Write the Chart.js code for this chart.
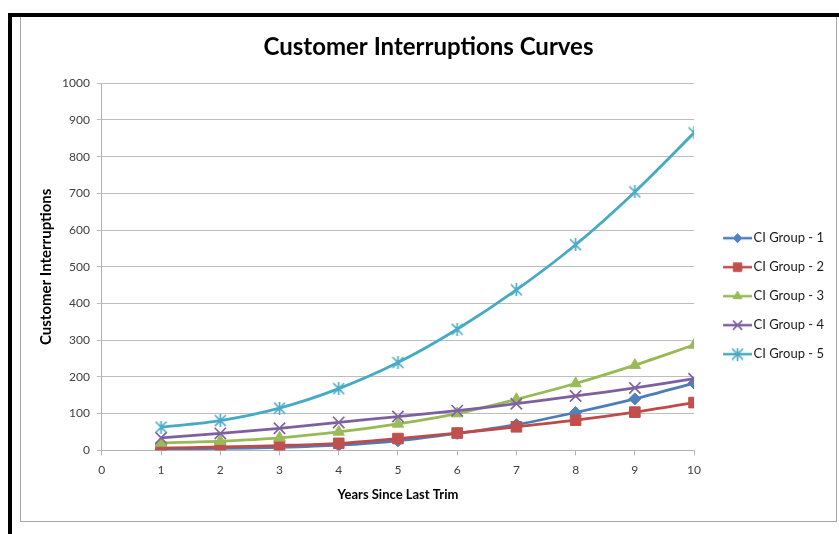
<!DOCTYPE html>
<html>
<head>
<meta charset="utf-8">
<title>Customer Interruptions Curves</title>
<script src="https://cdn.jsdelivr.net/npm/chart.js@4.4.1/dist/chart.umd.min.js"></script>
<style>
  html, body { margin: 0; padding: 0; background: #fff; }
  #wrap { position: relative; width: 839px; height: 534px; overflow: hidden; }
  #panel { position: absolute; left: 20px; top: 17px; width: 815px; height: 504px;
           border: 1px solid #a6a6a6; border-top: none; }
  .rule { position: absolute; background: #000; }
  #c { position: absolute; left: 0; top: 0; }
</style>
</head>
<body>
<div id="wrap">
  <div id="panel"></div>
  <canvas id="c" width="839" height="534"></canvas>
  <div class="rule" style="left:8px;top:13px;width:831px;height:4px"></div>
  <div class="rule" style="left:8px;top:13px;width:4px;height:521px"></div>
</div>
<script>
// Years since the last trim (x values)
const years = [1, 2, 3, 4, 5, 6, 7, 8, 9, 10];

// Customer interruptions per group
const group1 = [3, 5, 8, 14, 26, 46, 70, 103, 140, 183];
const group2 = [6, 9, 13, 19, 32, 47, 64, 82, 104, 130];
const group3 = [20, 25, 34, 50, 72, 100, 139, 182, 232, 287];
const group4 = [34, 46, 60, 76, 92, 108, 127, 148, 170, 195];
const group5 = [63, 81, 115, 168, 239, 330, 437, 560, 704, 865];

const seriesNames = ['CI Group - 1', 'CI Group - 2', 'CI Group - 3', 'CI Group - 4', 'CI Group - 5'];
const seriesValues = [group1, group2, group3, group4, group5];

// Axis ranges
const xMin = 0, xMax = 10, xStep = 1;
const yMin = 0, yMax = 1000, yStep = 100;

const FONT = 'Lato, Carlito, Calibri, "DejaVu Sans", sans-serif';

// Office-style asterisk marker (X plus vertical stroke)
function asterisk(color, size) {
  const c = document.createElement('canvas');
  c.width = size; c.height = size;
  const g = c.getContext('2d');
  const m = 1.5, s = size - 1.5;
  g.strokeStyle = color; g.lineWidth = 1.7; g.lineCap = 'round';
  g.beginPath();
  g.moveTo(m, m); g.lineTo(s, s);
  g.moveTo(s, m); g.lineTo(m, s);
  g.moveTo(size / 2, 0.5); g.lineTo(size / 2, size - 0.5);
  g.stroke();
  return c;
}

const styles = [
  { line: '#4A7EBB', fill: '#4F81BD', point: 'rectRot',  radius: 6,   bw: 1 },
  { line: '#BE4B48', fill: '#C0504D', point: 'rect',     radius: 7.5, bw: 1 },
  { line: '#98B954', fill: '#9BBB59', point: 'triangle', radius: 6.5, bw: 1 },
  { line: '#7D60A0', fill: '#8064A2', point: 'crossRot', radius: 8,   bw: 1.7 },
  { line: '#46AAC5', fill: '#4BACC6', point: null,       radius: 7,   bw: 1.7 }
];
styles[4].point = asterisk(styles[4].fill, 13);

// Legend sample: short line with the series marker in its middle
function legendSample(st) {
  const c = document.createElement('canvas');
  c.width = 60; c.height = 16;
  const g = c.getContext('2d');
  g.strokeStyle = st.line; g.lineWidth = 2.5;
  g.beginPath(); g.moveTo(27, 8); g.lineTo(56, 8); g.stroke();
  if (typeof st.point === 'string') {
    g.fillStyle = st.fill; g.strokeStyle = st.fill; g.lineWidth = st.bw;
    Chart.helpers.drawPoint(g, { pointStyle: st.point, radius: st.radius - 1.5, rotation: 0, borderWidth: st.bw }, 41.5, 8);
  } else {
    g.drawImage(st.point, 41.5 - st.point.width / 2, 8 - st.point.height / 2);
  }
  return c;
}
const samples = styles.map(legendSample);

const datasets = seriesNames.map((name, i) => ({
  label: name,
  data: years.map((x, k) => ({ x: x, y: seriesValues[i][k] })),
  borderColor: styles[i].line,
  backgroundColor: styles[i].fill,
  pointStyle: styles[i].point,
  pointRadius: styles[i].radius,
  pointHoverRadius: styles[i].radius,
  pointBackgroundColor: styles[i].fill,
  pointBorderColor: styles[i].fill,
  pointBorderWidth: styles[i].bw,
  borderWidth: 2.8,
  tension: 0.3,
  fill: false,
  order: seriesNames.length - i
}));

// Small offset for the legend block inside its layout box
const legendShift = {
  id: 'legendShift',
  afterLayout(chart) {
    const lg = chart.legend;
    const dx = -5, dy = 33;
    lg.left += dx; lg.right += dx;
    lg.top += dy; lg.bottom += dy;
  }
};

new Chart(document.getElementById('c'), {
  type: 'line',
  data: { datasets },
  plugins: [legendShift],
  options: {
    responsive: false,
    animation: false,
    layout: { padding: { left: 18, right: 0, top: 20, bottom: 27.7 } },
    plugins: {
      title: {
        display: true,
        text: 'Customer Interruptions Curves',
        color: '#000',
        font: { family: FONT, size: 24, weight: 'bold' },
        padding: { top: 12.6, bottom: 21.9 }
      },
      legend: {
        position: 'right',
        align: 'center',
        labels: {
          usePointStyle: true,
          pointStyleWidth: 42,
          boxWidth: 42,
          boxHeight: 12,
          padding: 16,
          color: '#1a1a1a',
          font: { family: FONT, size: 13 },
          sort: (a, b) => a.datasetIndex - b.datasetIndex,
          generateLabels(chart) {
            const items = Chart.defaults.plugins.legend.labels.generateLabels(chart);
            items.forEach(it => { it.pointStyle = samples[it.datasetIndex]; });
            return items;
          }
        }
      },
      tooltip: { enabled: false }
    },
    scales: {
      x: {
        type: 'linear',
        min: xMin, max: xMax,
        ticks: { stepSize: xStep, color: '#404040', padding: 8, font: { family: FONT, size: 12 } },
        grid: { drawOnChartArea: false, drawTicks: true, tickLength: 5, color: '#b4b4b4' },
        border: { color: '#b4b4b4' },
        title: {
          display: true, text: 'Years Since Last Trim', color: '#000',
          font: { family: FONT, size: 13, weight: 'bold' },
          padding: { top: 1, bottom: 4 }
        }
      },
      y: {
        min: yMin, max: yMax,
        ticks: { stepSize: yStep, color: '#404040', padding: 7, font: { family: FONT, size: 12 },
                 callback: v => String(v) },
        grid: { color: '#bdbdbd', tickLength: 5 },
        border: { color: '#b4b4b4' },
        title: {
          display: true, text: 'Customer Interruptions', color: '#000',
          font: { family: FONT, size: 15, weight: 'bold', lineHeight: 1 },
          padding: { top: 21, bottom: 1 }
        }
      }
    }
  }
});
</script>
</body>
</html>
